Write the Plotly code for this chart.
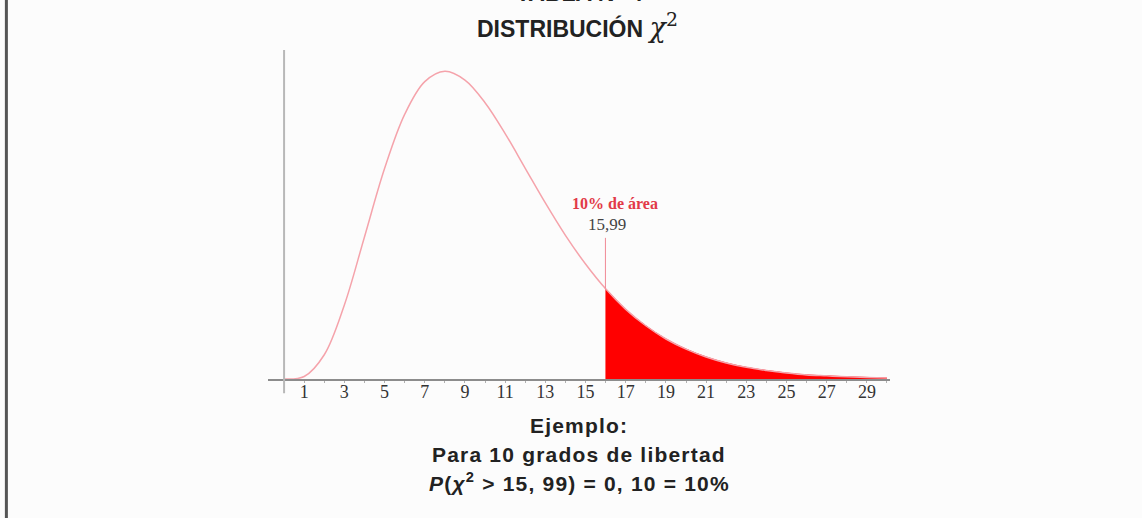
import plotly.graph_objects as go

# densidad chi-cuadrado (10 g.l.)
x_vals = [0, 1, 2, 3, 4, 5, 6, 7, 8, 9, 10, 11, 12, 13, 14, 15, 15.99,
          17, 18, 19, 20, 21, 22, 23, 24, 25, 26, 27, 28, 29, 30]
y_vals = [0.0, 0.0008, 0.0077, 0.0235, 0.0451, 0.0668, 0.0840, 0.0944, 0.0977,
          0.0949, 0.0877, 0.0779, 0.0669, 0.0559, 0.0456, 0.0365, 0.0287,
          0.0221, 0.0169, 0.0127, 0.0095, 0.0070, 0.0051, 0.0037, 0.0027,
          0.0019, 0.0013, 0.0010, 0.0007, 0.0005, 0.0003]
x_crit = 15.99
marker_top = 0.0448
tick_vals = [1, 3, 5, 7, 9, 11, 13, 15, 17, 19, 21, 23, 25, 27, 29]
tick_text = [str(v) for v in tick_vals]

tail_x = [x for x in x_vals if x >= x_crit]
tail_y = [y for x, y in zip(x_vals, y_vals) if x >= x_crit]
y_crit = y_vals[x_vals.index(x_crit)]

fig = go.Figure()
fig.add_trace(go.Scatter(x=tail_x, y=tail_y, mode='lines', fill='tozeroy',
                         fillcolor='#ff0000', line=dict(color='#ff0000', width=1, shape='spline'),
                         hoverinfo='skip'))
fig.add_trace(go.Scatter(x=x_vals, y=y_vals, mode='lines',
                         line=dict(color='#f5a3ab', width=1.5, shape='spline')))
fig.add_trace(go.Scatter(x=[x_crit, x_crit], y=[y_crit, marker_top], mode='lines',
                         line=dict(color='#f08a96', width=1)))

fig.update_xaxes(range=[-0.8, 30.15], showgrid=False, zeroline=False,
                 showline=True, linecolor='#8c8c8c', linewidth=1.5,
                 tickvals=tick_vals, ticktext=tick_text, ticks='outside', ticklen=2,
                 tickcolor='#b0b0b0', ticklabelstandoff=-6,
                 minor=dict(dtick=1, ticks='outside', ticklen=2, tickcolor='#b0b0b0'),
                 tickfont=dict(family='Liberation Serif', size=18, color='#333333'))
fig.update_yaxes(range=[0, 0.10444], showgrid=False, zeroline=False, showline=False,
                 showticklabels=False, ticks='')

# eje vertical que baja por debajo del eje x
fig.add_shape(type='line', xref='x', yref='paper', x0=0, x1=0, y0=-0.043, y1=1,
              line=dict(color='#b8b8b8', width=2))
# borde izquierdo de la captura
fig.add_shape(type='line', xref='paper', yref='paper', x0=-0.4206, x1=-0.4206, y0=-0.43, y1=1.16,
              line=dict(color='#555555', width=3))

serif = 'Liberation Serif'
sans = 'Liberation Sans, Arial'
sp = '<span style="letter-spacing:1.2px">'
fig.add_annotation(x=16.47, y=0.0556, text='<b>10% de área</b>', showarrow=False,
                   font=dict(family=serif, size=16, color='#e23a48'))
fig.add_annotation(x=16.07, y=0.0492, text='15,99', showarrow=False,
                   font=dict(family=serif, size=17, color='#444444'))

fig.add_annotation(xref='paper', yref='paper', x=0.5, y=1.129, yanchor='bottom',
                   text='<b>TABLA N° 4</b>', showarrow=False,
                   font=dict(family=sans, size=23, color='#222222'))
fig.add_annotation(xref='paper', yref='paper', x=0.497, y=1.074, yanchor='middle',
                   text='<b>DISTRIBUCIÓN</b> <span style="font-family:DejaVu Serif;font-size:27px"><i>χ</i><sup>2</sup></span>',
                   showarrow=False, font=dict(family=sans, size=23, color='#222222'))
fig.add_annotation(xref='paper', yref='paper', x=0.5, y=-0.140, yanchor='middle',
                   text=sp + '<b>Ejemplo:</b></span>',
                   showarrow=False, font=dict(family=sans, size=21, color='#222222'))
fig.add_annotation(xref='paper', yref='paper', x=0.5, y=-0.231, yanchor='middle',
                   text=sp + '<b>Para 10 grados de libertad</b></span>',
                   showarrow=False, font=dict(family=sans, size=21, color='#222222'))
fig.add_annotation(xref='paper', yref='paper', x=0.5, y=-0.313, yanchor='middle',
                   text=sp + '<b><i>P</i>(<i>χ</i><sup>2</sup> > 15, 99) = 0, 10 = 10%</b></span>',
                   showarrow=False, font=dict(family=sans, size=21, color='#222222'))

fig.update_layout(width=1142, height=518, showlegend=False,
                  margin=dict(l=268, r=252, t=50, b=139),
                  paper_bgcolor='#fcfcfc', plot_bgcolor='#fcfcfc')
fig.write_html("out.html", config={'displayModeBar': False},
               post_script="document.body.style.margin='0';")
